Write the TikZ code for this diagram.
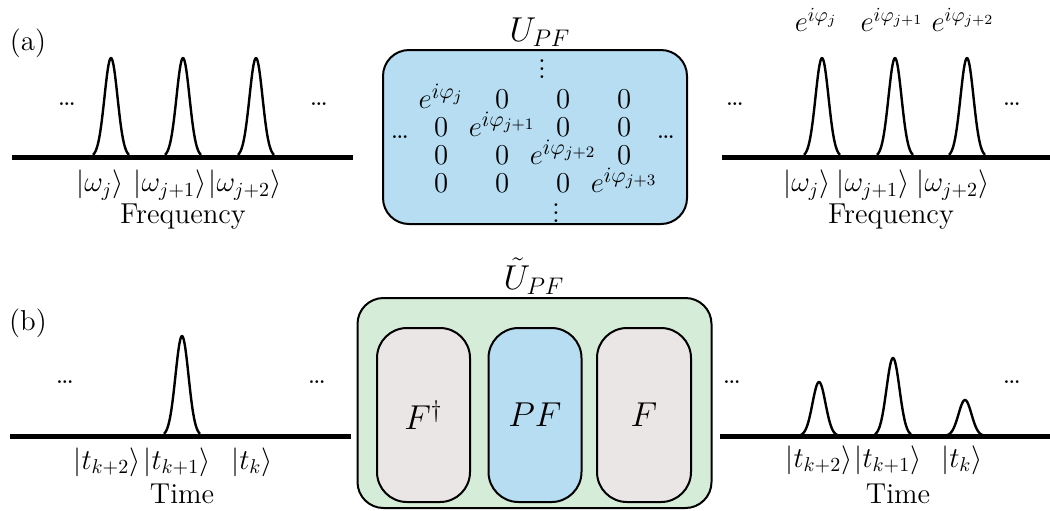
\documentclass[tikz,border=0pt]{standalone}
\usepackage{amsmath}
\usepackage{tikz}
\usetikzlibrary{matrix, positioning}
\definecolor{pfFill}{RGB}{182,221,242}
\definecolor{wrapFill}{RGB}{213,236,217}
\definecolor{ftFill}{RGB}{234,230,229}
\newcommand{\matfont}{\fontsize{15.5}{18}\selectfont}
\tikzset{
  axisline/.style={line width=2.5pt},
  pulse/.style={line width=1.2pt, line join=round},
  box/.style={draw=black, line width=1pt, rounded corners=13pt},
  opbox/.style={draw=black, line width=1pt, rounded corners=15pt, fill=ftFill},
  lbl/.style={font=\Large, inner sep=1pt},
  dotsnode/.style={font=\Large, inner sep=0pt}
}
\newcommand{\gpulse}[3]{% centre x, baseline y, height
  \draw[pulse] plot[domain=-18:18, samples=50, smooth] ({#1+\x}, {#2-#3*exp(-(\x*\x)/(2*6.5*6.5))});}

\begin{document}
\begin{tikzpicture}[x=0.5pt, y=-0.5pt]
  \useasboundingbox (0,0) rectangle (1050,510);

  % (a) frequency picture
  \node[lbl] (tagA) at (28,43) {(a)};
  \coordinate (aL0) at (12,157);
  \coordinate (aL1) at (353,157);
  \draw[axisline] (aL0) -- (aL1);
  \gpulse{111}{157}{99}
  \gpulse{183}{157}{99}
  \gpulse{256}{157}{99}
  \node[dotsnode] (aLdl) at (67,104) {\dots};
  \node[dotsnode] (aLdr) at (319,104) {\dots};
  \node[lbl] (wjL) at (100,185) {$|\omega_j\rangle$};
  \node[lbl] (wj1L) at (170,185) {$|\omega_{j+1}\rangle$};
  \node[lbl] (wj2L) at (245,185) {$|\omega_{j+2}\rangle$};
  \node[lbl] (freqL) at (183,217) {Frequency};

  % U_PF box with the diagonal matrix
  \node[box, fill=pfFill, minimum width=152pt, minimum height=87pt] (upf) at (535,137) {};
  \node[lbl, font=\LARGE] (upfLbl) at (540,32) {$U_{PF}$};
  \matrix (mat) [matrix of math nodes, nodes={font=\matfont, anchor=base, inner sep=0pt},
    column sep={30.5pt,between origins}, row sep={14pt,between origins}] at (538,138) {
    e^{i\varphi_j} & 0 & 0 & 0 \\
    0 & e^{i\varphi_{j+1}} & 0 & 0 \\
    0 & 0 & e^{i\varphi_{j+2}} & 0 \\
    0 & 0 & 0 & e^{i\varphi_{j+3}} \\
  };
  \node[dotsnode] (vtop) at (542,63) {$\vdots$};
  \node[dotsnode] (vbot) at (556,207) {$\vdots$};
  \node[dotsnode] (hleft) at (400,137) {\dots};
  \node[dotsnode] (hright) at (666,137) {\dots};

  % (a) output spectrum
  \coordinate (aR0) at (722,157);
  \coordinate (aR1) at (1050,157);
  \draw[axisline] (aR0) -- (aR1);
  \gpulse{822}{157}{99}
  \gpulse{895}{157}{99}
  \gpulse{967}{157}{99}
  \node[dotsnode] (aRdl) at (735,104) {\dots};
  \node[dotsnode] (aRdr) at (1012,104) {\dots};
  \node[lbl] (ph1) at (816,20) {$e^{i\varphi_j}$};
  \node[lbl] (ph2) at (892,20) {$e^{i\varphi_{j+1}}$};
  \node[lbl] (ph3) at (963,20) {$e^{i\varphi_{j+2}}$};
  \node[lbl] (wjR) at (807,185) {$|\omega_j\rangle$};
  \node[lbl] (wj1R) at (873,185) {$|\omega_{j+1}\rangle$};
  \node[lbl] (wj2R) at (953,185) {$|\omega_{j+2}\rangle$};
  \node[lbl] (freqR) at (891,217) {Frequency};

  % (b) time picture
  \node[lbl] (tagB) at (28,323) {(b)};
  \coordinate (bL0) at (10,436);
  \coordinate (bL1) at (351,436);
  \draw[axisline] (bL0) -- (bL1);
  \gpulse{182}{436}{100}
  \node[dotsnode] (bLdl) at (65,382) {\dots};
  \node[dotsnode] (bLdr) at (317,382) {\dots};
  \node[lbl] (tk2L) at (107,462) {$|t_{k+2}\rangle$};
  \node[lbl] (tk1L) at (177,462) {$|t_{k+1}\rangle$};
  \node[lbl] (tkL) at (252,462) {$|t_k\rangle$};
  \node[lbl] (timeL) at (182,494) {Time};

  % tilde U_PF = F^dagger PF F
  \node[box, fill=wrapFill, minimum width=177pt, minimum height=105pt] (wrap) at (534.5,403) {};
  \node[lbl, font=\LARGE] (wrapLbl) at (534,276) {$\tilde{U}_{PF}$};
  \node[opbox, minimum width=46.5pt, minimum height=87pt] (fdag) at (423.5,415) {};
  \node[opbox, fill=pfFill, minimum width=46.5pt, minimum height=87pt] (pf) at (535,415) {};
  \node[opbox, minimum width=47pt, minimum height=87pt] (fop) at (644,415) {};
  \node[lbl, font=\LARGE] at (fdag) {$F^{\dagger}$};
  \node[lbl, font=\LARGE] at (pf) {$PF$};
  \node[lbl, font=\LARGE] at (fop) {$F$};

  % (b) output pulses
  \coordinate (bR0) at (720,436);
  \coordinate (bR1) at (1050,436);
  \draw[axisline] (bR0) -- (bR1);
  \gpulse{819}{436}{54}
  \gpulse{893}{436}{78}
  \gpulse{965}{436}{36}
  \node[dotsnode] (bRdl) at (732,382) {\dots};
  \node[dotsnode] (bRdr) at (1012,382) {\dots};
  \node[lbl] (tk2R) at (819,460) {$|t_{k+2}\rangle$};
  \node[lbl] (tk1R) at (888,460) {$|t_{k+1}\rangle$};
  \node[lbl] (tkR) at (962,460) {$|t_k\rangle$};
  \node[lbl] (timeR) at (898,494) {Time};
\end{tikzpicture}
\end{document}
